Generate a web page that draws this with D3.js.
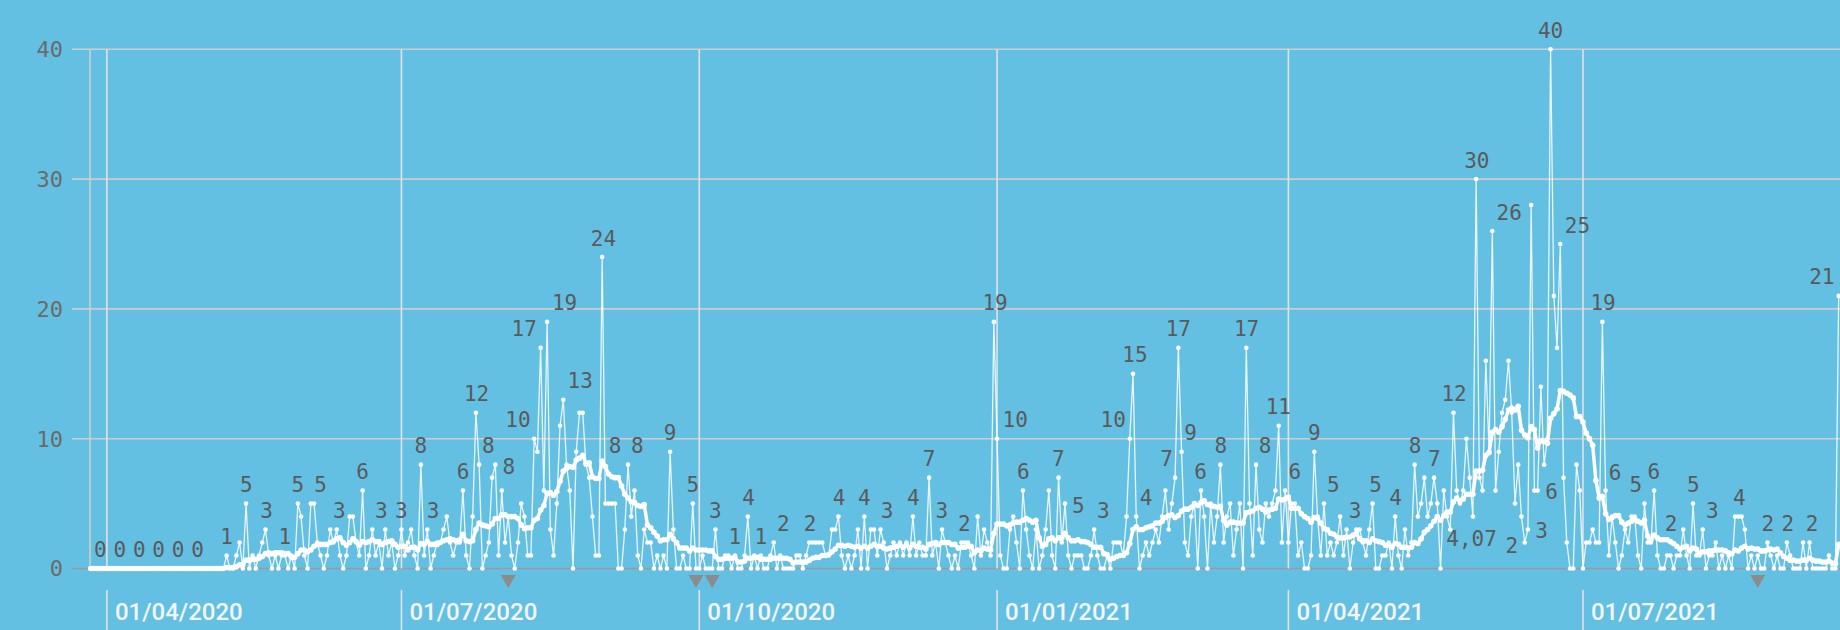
<!DOCTYPE html>
<html><head><meta charset="utf-8">
<script src="https://cdn.jsdelivr.net/npm/d3@7"></script>
<style>
html,body{margin:0;padding:0;background:#64c0e3;}
svg{display:block;}
</style></head><body>
<svg id="chart" width="1840" height="630"></svg>
<script>
// ---- data ----
const startDate = "2020-03-27";
const dailyCases = [
  // 27/03 - 07/05/2020
  0,0,0,0,0,0,0,0,0,0, 0,0,0,0,0,0,0,0,0,0, 0,0,0,0,0,0,0,0,0,0, 0,0,0,0,0,0,0,0,0,0, 0,0,
  // d42 - d95
  1,0,0,1,2,0,5,0,1,0, 1,2,3,1,0,1,0,1,1,0, 1,0,5,4,1,0,5,5,2,1, 0,1,3,2,3,1,0,1,4,4, 2,1,6,0,1,3,1,2,0,3, 1,2,0,1,
  // d96 - d192
  3,1,2,3,1,0,8,1,3,0, 1,2,2,3,4,2,1,2,2,6, 1,0,4,12,8,0,1,2,7,8, 1,6,2,4,1,0,2,5,4,1,
  1,10,9,17,6,19,3,1,5,11, 13,8,6,0,9,12,12,8,7,4, 1,1,24,5,5,5,5,0,0,3, 8,4,6,1,0,3,2,2,0,1,
  0,1,0,9,3,0,0,1,0,0, 5,0,0,1,0,0,0,
  // d193 - d280
  3,0,0,1,1,0,1,0,0,1, 4,0,1,0,1,0,0,1,2,0, 1,0,0,0,0,1,1,0,1,2, 2,2,2,2,1,1,3,3,4,1,
  0,1,0,1,3,0,4,0,3,3, 1,3,2,0,1,2,1,2,1,2, 1,4,1,2,1,1,7,1,2,0, 3,2,1,0,1,0,2,2,2,1,
  0,4,1,3,2,1,19,10,
  // d281 - d372
  1,0,0,3,4,2,0,6,3,1, 0,3,0,1,3,6,1,0,7,2, 5,1,0,1,1,1,0,0,1,3, 1,0,0,1,0,2,2,2,1,4,
  10,15,4,0,1,2,1,2,3,2, 4,6,3,5,7,17,9,2,1,4, 5,0,6,4,0,5,2,4,8,2, 4,5,1,3,5,0,17,5,1,8,
  3,2,5,4,5,6,11,2,6,2, 5,5,
  // d373 - d468
  1,2,0,0,1,9,4,1,5,1, 2,1,2,4,1,3,0,2,3,3, 2,1,3,5,0,0,1,1,2,0, 4,1,0,3,1,2,8,4,5,7,
  4,5,7,5,0,6,4,3,12,6, 5,6,10,7,4,30,7,6,16,9, 26,6,9,12,13,16,12,5,8,4, 2,3,28,6,6,14,8,10,40,21,
  17,25,7,2,0,0,8,6,0,2, 2,3,2,2,19,6,
  // d469 - d540
  1,4,2,0,1,3,2,4,4,1, 0,5,2,2,6,1,0,0,1,1, 0,1,1,3,1,0,5,1,1,3, 0,1,1,2,0,1,0,1,0,4,
  4,4,3,0,1,0,1,0,0,2, 1,0,1,0,0,2,1,0,0,0, 2,0,2,0,0,0,0,0,1,0, 0,21
];
const avgWindow = 14;
const yTicks = [0, 10, 20, 30, 40];
const xTickDates = ["2020-04-01","2020-07-01","2020-10-01","2021-01-01","2021-04-01","2021-07-01"];
const xTickLabels = ["01/04/2020","01/07/2020","01/10/2020","01/01/2021","01/04/2021","01/07/2021"];
const markerDates = ["2020-08-03","2020-09-30","2020-10-05","2021-08-24"];
// [day offset from startDate, text, value where label anchors]
const pointLabels = [
  [3,"0",0],[9,"0",0],[15,"0",0],[21,"0",0],[27,"0",0],[33,"0",0],
  [42,"1",1],[48.1,"5",5],[54.3,"3",3],[60,"1",1],[64,"5",5],[71,"5",5],[76.8,"3",3],[84,"6",6],
  [89.8,"3",3],[96,"3",3],[102,"8",8],[105.8,"3",3],[115,"6",6],[119.2,"12",12],[122.8,"8",8],
  [129.2,"8",6.4],[132,"10",10],[133.9,"17",17],[146.4,"19",19],[151.2,"13",13],[158.4,"24",24],
  [162,"8",8],[168.9,"8",8],[179,"9",9],[186,"5",5],[193,"3",3],[199,"1",1],[203.2,"4",4],[207,"1",1],
  [214,"2",2],[222.2,"2",2],[231.2,"4",4],[239,"4",4],[246,"3",3],[254.1,"4",4],[259,"7",7],
  [262.9,"3",3],[269.9,"2",2],[279.4,"19",19],[285.6,"10",10],[288.1,"6",6],[298.9,"7",7],
  [305.1,"5",3.4],[312.8,"3",3],[315.9,"10",10],[322.6,"15",15],[326,"4",4],[332.4,"7",7],
  [336,"17",17],[339.8,"9",9],[342.9,"6",6],[349.1,"8",8],[357.1,"17",17],[362.8,"8",8],
  [366.9,"11",11],[372,"6",6],[378,"9",9],[383.9,"5",5],[390.6,"3",3],[396.9,"5",5],[403.1,"4",4],
  [409.1,"8",8],[415.1,"7",7],[421.2,"12",12],[426.6,"4,07",0.85],[428.2,"30",30],[438.2,"26",26],
  [439,"2",0.35],[448.2,"3",1.5],[451.3,"6",4.45],[451,"40",40],[459.3,"25",25],[467.2,"19",19],
  [470.9,"6",5.9],[477.3,"5",5],[482.9,"6",6],[488.2,"2",2],[495.1,"5",5],[501,"3",3],[509.3,"4",4],
  [518.1,"2",2],[524.3,"2",2],[531.8,"2",2],[534.8,"21",21]
];

// ---- layout ----
const W = 1840, H = 630;
const plotLeft = 90.7, pxPerDay = 3.237;
const yTop = 49.3, yBottom = 568.5;

const parse = d3.utcParse("%Y-%m-%d");
const t0 = parse(startDate);
const series = dailyCases.map((v, i) => ({date: d3.utcDay.offset(t0, i), v}));
const avg = series.map((d, i) => {
  const win = dailyCases.slice(Math.max(0, i - avgWindow + 1), i + 1);
  return {date: d.date, v: d3.mean(win)};
});

const x = d3.scaleUtc()
  .domain([t0, d3.utcDay.offset(t0, dailyCases.length - 1)])
  .range([plotLeft, plotLeft + (dailyCases.length - 1) * pxPerDay]);
const y = d3.scaleLinear().domain([0, 40]).range([yBottom, yTop]);
const xd = d => x(d3.utcDay.offset(t0, 0)) + d * pxPerDay;

const svg = d3.select("#chart");
svg.append("rect").attr("width", W).attr("height", H).attr("fill", "#64c0e3");

// horizontal grid
svg.append("g").selectAll("line").data(yTicks).join("line")
  .attr("x1", 72).attr("x2", W)
  .attr("y1", d => y(d)).attr("y2", d => y(d))
  .attr("stroke", d => d === 0 ? "#9a9a9a" : "#cdcdcd").attr("stroke-width", 1.6);

// y labels
svg.append("g").selectAll("text").data(yTicks).join("text")
  .attr("x", 63).attr("y", d => y(d)).attr("dy", "0.36em")
  .attr("text-anchor", "end")
  .attr("font-family", "DejaVu Sans Mono, monospace").attr("font-size", 22)
  .attr("fill", "#6a6a6a").text(d => d);

// left border
svg.append("line").attr("x1", 90).attr("x2", 90).attr("y1", yTop).attr("y2", yBottom)
  .attr("stroke", "#cdcdcd").attr("stroke-width", 1.6);

// vertical grid + ticks + labels
const xt = xTickDates.map(parse);
svg.append("g").selectAll("line").data(xt).join("line")
  .attr("x1", d => x(d)).attr("x2", d => x(d))
  .attr("y1", yTop).attr("y2", yBottom)
  .attr("stroke", "#e2e2e2").attr("stroke-width", 1.6);
svg.append("g").selectAll("line").data(xt).join("line")
  .attr("x1", d => x(d)).attr("x2", d => x(d))
  .attr("y1", 590).attr("y2", H)
  .attr("stroke", "#e2e2e2").attr("stroke-width", 1.6);
svg.append("g").selectAll("text").data(xt).join("text")
  .attr("x", d => x(d) + 8).attr("y", 619.5)
  .attr("font-family", "Roboto, sans-serif").attr("font-weight", 500).attr("font-size", 24)
  .attr("fill", "#f3f6f8").text((d, i) => xTickLabels[i]);

// markers
svg.append("g").selectAll("path").data(markerDates.map(parse)).join("path")
  .attr("d", d => { const cx = x(d); return `M${cx-7.5},575L${cx+7.5},575L${cx},588Z`; })
  .attr("fill", "#8c8c8c");

// moving average
const line = d3.line().x(d => x(d.date)).y(d => y(d.v));
svg.append("path").datum(avg).attr("d", line)
  .attr("fill", "none").attr("stroke", "#ffffff").attr("stroke-width", 3.5)
  .attr("stroke-linejoin", "round");
svg.append("g").selectAll("circle").data(avg).join("circle")
  .attr("cx", d => x(d.date)).attr("cy", d => y(d.v)).attr("r", 2.8).attr("fill", "#ffffff");

// daily
svg.append("path").datum(series).attr("d", line)
  .attr("fill", "none").attr("stroke", "rgba(255,255,255,0.85)").attr("stroke-width", 1.3)
  .attr("stroke-linejoin", "round");
svg.append("g").selectAll("circle").data(series).join("circle")
  .attr("cx", d => x(d.date)).attr("cy", d => y(d.v)).attr("r", 2.3).attr("fill", "#ffffff");

// labels
svg.append("g").selectAll("text").data(pointLabels).join("text")
  .attr("x", d => xd(d[0])).attr("y", d => y(d[2]) - 19).attr("dy", "0.36em")
  .attr("text-anchor", "middle")
  .attr("font-family", "DejaVu Sans Mono, monospace").attr("font-size", 21)
  .attr("fill", "#5a5a5a").text(d => d[1]);
</script>
</body></html>
